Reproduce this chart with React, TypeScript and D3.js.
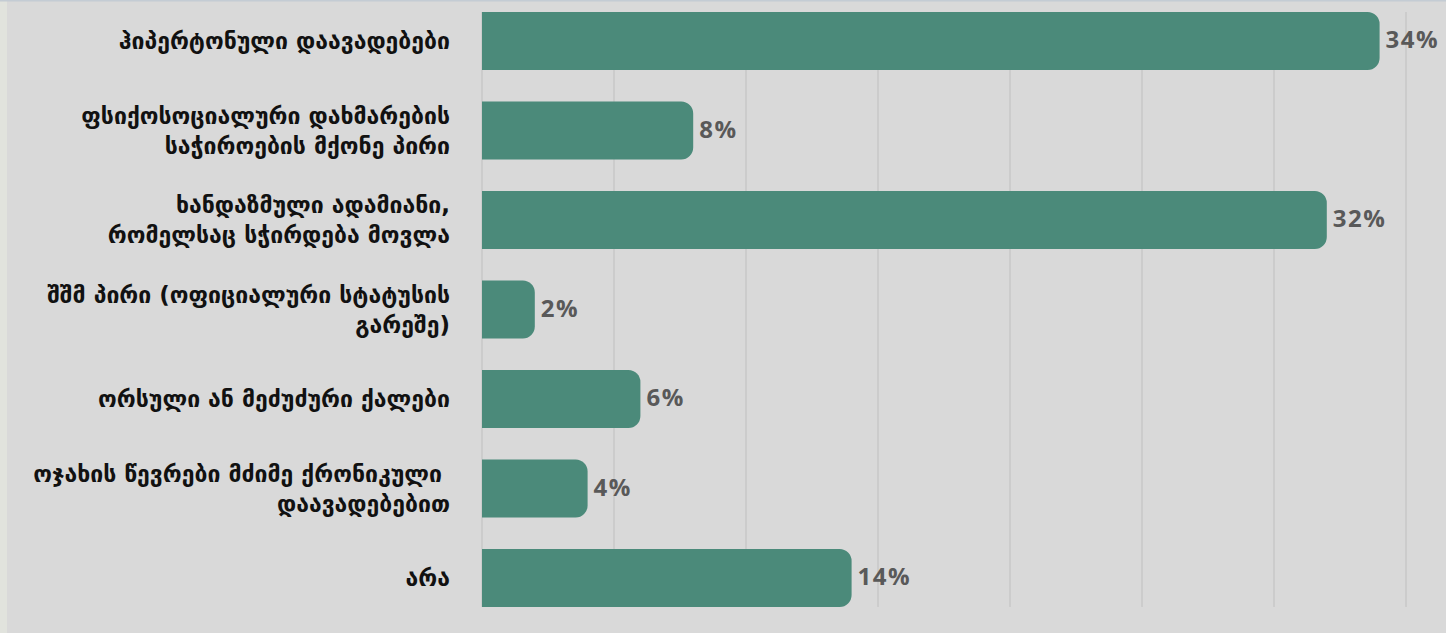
import React from "react";
import * as d3 from "d3";

const categories: string[][] = [
  ["ჰიპერტონული დაავადებები"],
  ["ფსიქოსოციალური დახმარების", "საჭიროების მქონე პირი"],
  ["ხანდაზმული ადამიანი,", "რომელსაც სჭირდება მოვლა"],
  ["შშმ პირი (ოფიციალური სტატუსის", "გარეშე)"],
  ["ორსული ან მეძუძური ქალები"],
  ["ოჯახის წევრები მძიმე ქრონიკული ", "დაავადებებით"],
  ["არა"],
];
const values: number[] = [34, 8, 32, 2, 6, 4, 14];
const xTicks: number[] = [0, 5, 10, 15, 20, 25, 30, 35];

const W = 1446;
const H = 633;

export default function App() {
  const x = d3.scaleLinear().domain([0, 35]).range([482, 1406]);
  const y = d3
    .scaleBand<number>()
    .domain(values.map((_, i) => i))
    .range([-3.75, 622.75])
    .paddingInner(0.352)
    .paddingOuter(0.176);
  const bw = y.bandwidth();
  const gTop = y(0)!;
  const gBot = y(values.length - 1)! + bw;
  const r = 12;

  const barPath = (v: number, i: number) => {
    const x0 = x(0);
    const x1 = x(v);
    const y0 = y(i)!;
    const y1 = y0 + bw;
    const rr = Math.min(r, (x1 - x0) / 2, bw / 2);
    const p = d3.path();
    p.moveTo(x0, y0);
    p.lineTo(x1 - rr, y0);
    p.arcTo(x1, y0, x1, y0 + rr, rr);
    p.lineTo(x1, y1 - rr);
    p.arcTo(x1, y1, x1 - rr, y1, rr);
    p.lineTo(x0, y1);
    p.closePath();
    return p.toString();
  };

  return (
    <svg
      width={W}
      height={H}
      style={{ position: "absolute", left: 0, top: 0, display: "block" }}
    >
      <rect x={0} y={0} width={W} height={H} fill="#d9d9d9" />
      <rect x={0} y={0} width={7} height={H} fill="#e1e3dd" />
      <rect x={0} y={0} width={W} height={1.5} fill="#c4ccd4" />
      {xTicks.map((t) => (
        <line
          key={t}
          x1={x(t)}
          x2={x(t)}
          y1={gTop}
          y2={gBot}
          stroke="#bfbfbf"
          strokeWidth={1}
        />
      ))}
      {values.map((v, i) => (
        <path key={i} d={barPath(v, i)} fill="#4b8a7a" />
      ))}
      {values.map((v, i) => (
        <text
          key={"v" + i}
          x={x(v) + 6}
          y={y(i)! + bw / 2}
          dy="0.3em"
          fontFamily="'Open Sans', 'DejaVu Sans', sans-serif"
          fontWeight={700}
          fontSize={24}
          letterSpacing={1.5}
          fill="#595959"
        >
          {v}%
        </text>
      ))}
      {categories.map((lines, i) => {
        const cy = y(i)! + bw / 2;
        const lh = 30;
        const start = cy - ((lines.length - 1) * lh) / 2;
        return (
          <text
            key={"c" + i}
            x={450}
            textAnchor="end"
            fontFamily="'DejaVu Sans', sans-serif"
            fontWeight={700}
            fontSize={23}
            fill="#111"
            style={{ whiteSpace: "pre" }}
          >
            {lines.map((l, j) => (
              <tspan key={j} x={450} y={start + j * lh} dy="0.36em">
                {l}
              </tspan>
            ))}
          </text>
        );
      })}
    </svg>
  );
}
